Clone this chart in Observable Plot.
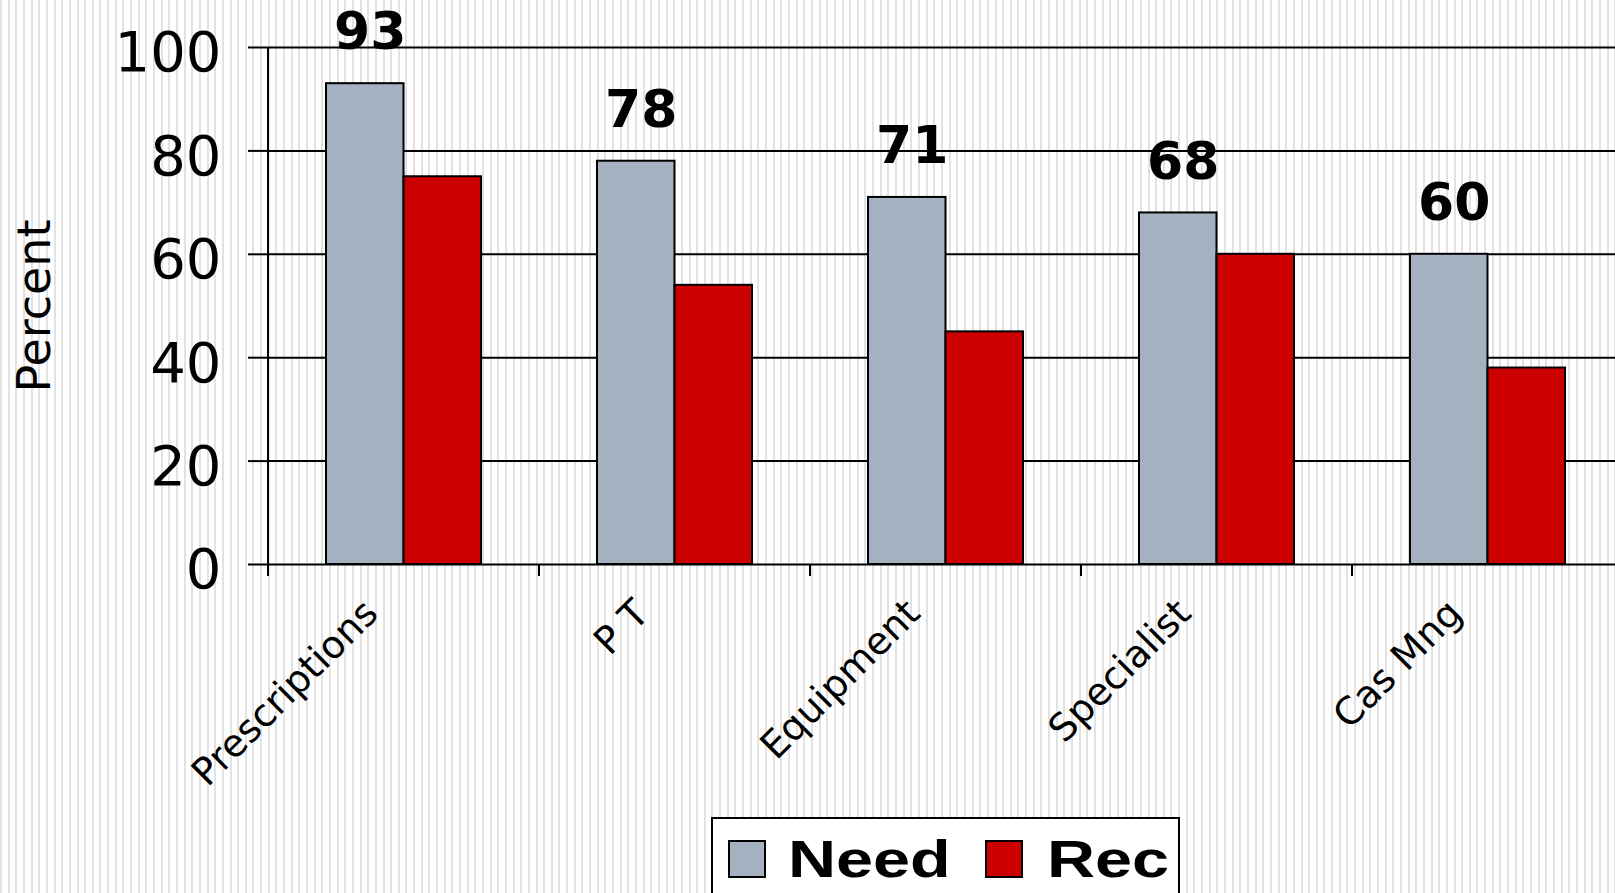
<!DOCTYPE html>
<html>
<head>
<meta charset="utf-8">
<script src="https://cdn.jsdelivr.net/npm/d3@7"></script>
<script src="https://cdn.jsdelivr.net/npm/@observablehq/plot@0.6"></script>
<style>
  html, body {
    margin: 0; padding: 0; overflow: hidden; width: 1615px; height: 893px;
    background: repeating-linear-gradient(to right, #e2e2e2 0px, #e2e2e2 2px, #ffffff 2px, #ffffff 7.65px);
  }
  #chart { width: 1640px; }
  #chart svg { display: block; max-width: none !important; width: 1640px !important; height: 815px !important; }
  #legend {
    position: relative; margin: 2px 0 0 711px; width: 469px; height: 110px;
    box-sizing: border-box; border: 2px solid #000; background: #fff;
    font-family: "Liberation Sans", Arial, sans-serif; font-weight: bold; font-size: 52px; line-height: 52px;
  }
  #legend .sw { position: absolute; width: 38px; height: 38px; box-sizing: border-box; border: 2px solid #000; }
  #legend .lbl { position: absolute; transform: scaleX(1.28); transform-origin: left center; white-space: nowrap; }
</style>
</head>
<body>
<div id="chart"></div>
<div id="legend"></div>
<script>
const categories = ["Prescriptions", "P T", "Equipment", "Specialist", "Cas Mng"];
const need = [93, 78, 71, 68, 60];
const rec = [75, 54, 45, 60, 38];
const yTicks = [0, 20, 40, 60, 80, 100];
const seriesNames = ["Need", "Rec"];
const seriesColors = ["#a3b1c0", "#cc0000"];
const yLabel = "Percent";

const rows = categories.map((c, i) => ({category: c, need: need[i], rec: rec[i]}));

const W = 1640, H = 815, mL = 268, mR = 17, mT = 47, mB = 251;
const band = (W - mL - mR) / categories.length;
const barW = band * 0.286;
const pad = (band - 2 * barW) / 2;

// vertical axis line and category boundary ticks, drawn from the library's scales
const boundaryTicks = (index, scales) => {
  const x = scales.x, y = scales.y;
  const g = d3.create("svg:g").attr("stroke", "black").attr("stroke-width", 2);
  const y0 = y(0);
  const edges = categories.map(c => x(c)).concat([x(categories[categories.length - 1]) + x.bandwidth()]);
  g.append("line").attr("x1", edges[0]).attr("x2", edges[0]).attr("y1", y(100)).attr("y2", y0);
  for (const e of edges) {
    g.append("line").attr("x1", e).attr("x2", e).attr("y1", y0).attr("y2", y0 + 12);
  }
  return g.node();
};

const plot = Plot.plot({
  width: W, height: H,
  marginLeft: mL, marginRight: mR, marginTop: mT, marginBottom: mB,
  style: {background: "transparent", overflow: "visible", fontFamily: "DejaVu Sans"},
  x: {domain: categories, padding: 0, axis: null},
  y: {domain: [0, 100]},
  marks: [
    Plot.ruleY(yTicks, {stroke: "black", strokeWidth: 2}),
    Plot.axisY({ticks: yTicks, tickSize: 20, tickFormat: () => "", strokeWidth: 2, label: null}),
    Plot.axisY({ticks: yTicks, tickSize: 0, tickPadding: 47, fontSize: 56, dy: 6, label: null}),
    Plot.barY(rows, {x: "category", y: "need", fill: seriesColors[0], stroke: "black", strokeWidth: 2,
      insetLeft: pad, insetRight: band - pad - barW}),
    Plot.barY(rows, {x: "category", y: "rec", fill: seriesColors[1], stroke: "black", strokeWidth: 2,
      insetLeft: pad + barW, insetRight: pad}),
    boundaryTicks,
    Plot.text(rows, {x: "category", y: "need", text: d => String(d.need),
      dx: pad + barW / 2 - band / 2 + 5, dy: -51, fontSize: 52, fontWeight: "bold", fill: "black"}),
    Plot.text(categories, {x: d => d, frameAnchor: "bottom", rotate: -45, textAnchor: "end",
      dx: -24, dy: 51, fontSize: 38, fill: "black"}),
    Plot.text([yLabel], {frameAnchor: "left", textAnchor: "middle", dx: -233, rotate: -90, fontSize: 46, fill: "black"})
  ]
});
document.getElementById("chart").appendChild(plot);

// legend below the chart
const legend = document.getElementById("legend");
const swLeft = [15, 272], lblLeft = [75, 334];
seriesNames.forEach((name, i) => {
  const sw = document.createElement("div");
  sw.className = "sw";
  sw.style.left = swLeft[i] + "px";
  sw.style.top = "21px";
  sw.style.background = seriesColors[i];
  legend.appendChild(sw);
  const lb = document.createElement("div");
  lb.className = "lbl";
  lb.style.left = lblLeft[i] + "px";
  lb.style.top = "14px";
  lb.textContent = name;
  legend.appendChild(lb);
});
</script>
</body>
</html>
